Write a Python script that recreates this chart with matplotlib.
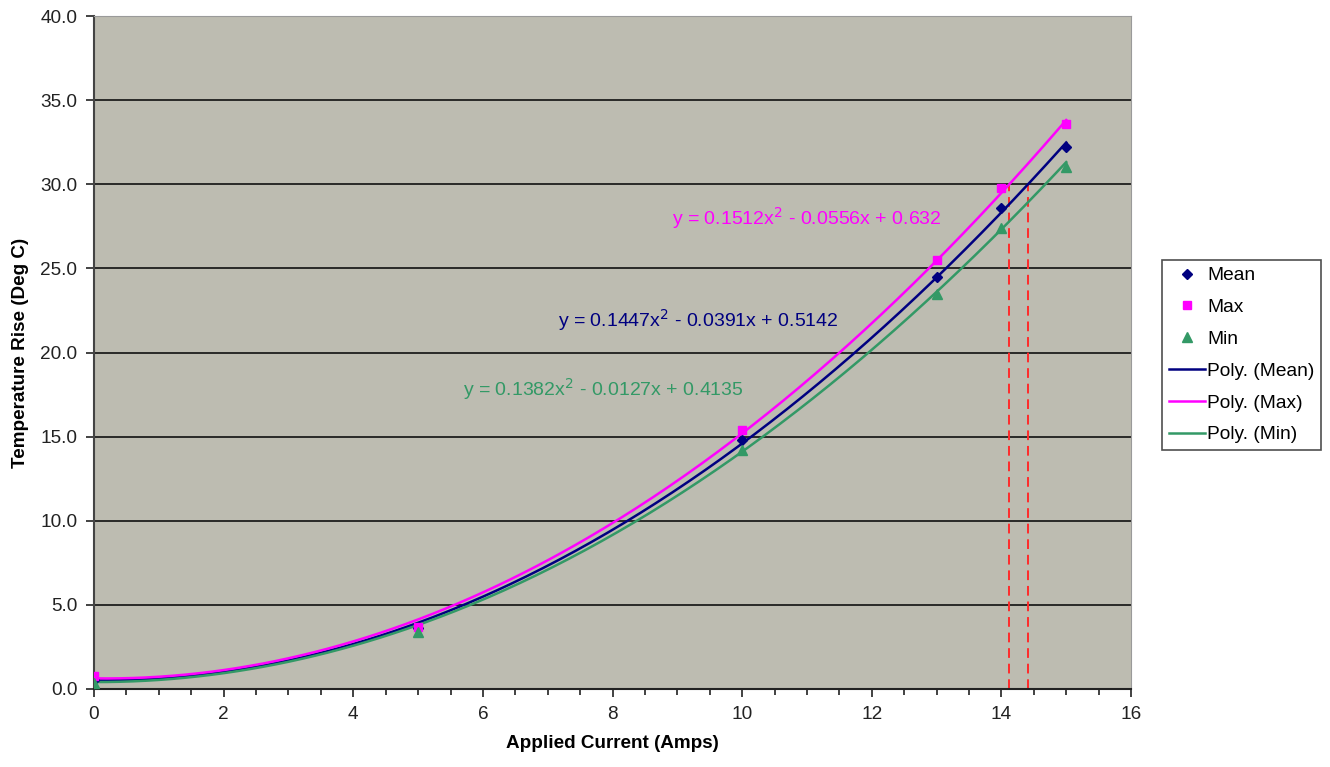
import numpy as np
import matplotlib
matplotlib.use("Agg")
import matplotlib.pyplot as plt
from matplotlib.ticker import MultipleLocator, FormatStrFormatter

plt.rcParams["font.family"] = ["Liberation Sans", "DejaVu Sans"]

# measured temperature rise per applied current
current = [0, 5, 10, 13, 14, 15]
mean_rise = [0.55, 3.6, 14.8, 24.5, 28.6, 32.2]
max_rise = [0.8, 3.7, 15.4, 25.5, 29.8, 33.6]
min_rise = [0.35, 3.4, 14.2, 23.5, 27.4, 31.0]

# 2nd order trendline coefficients (a, b, c)
fit_mean = [0.1447, -0.0391, 0.5142]
fit_max = [0.1512, -0.0556, 0.632]
fit_min = [0.1382, -0.0127, 0.4135]

limit_temp = 30.0

navy = "#000080"
magenta = "#ff00ff"
green = "#339966"


def eq_text(c):
    return "y = {0}x$^2$ - {1}x + {2}".format(c[0], abs(c[1]), c[2])


def crossing(c, y):
    a, b, k = c
    return (-b + np.sqrt(b * b - 4 * a * (k - y))) / (2 * a)


fig = plt.figure(figsize=(13.3, 7.67), dpi=100)
ax = fig.add_axes([0.0707, 0.1017, 0.7797, 0.8774])
ax.set_facecolor("#bdbcb1")

xs = np.linspace(0, 15, 300)
ax.plot(xs, np.polyval(fit_mean, xs), color=navy, lw=1.8, label="Poly. (Mean)", zorder=3)
ax.plot(xs, np.polyval(fit_max, xs), color=magenta, lw=1.8, label="Poly. (Max)", zorder=3)
ax.plot(xs, np.polyval(fit_min, xs), color=green, lw=1.8, label="Poly. (Min)", zorder=3)

ax.plot(current, mean_rise, "D", color=navy, ms=5.5, ls="none", label="Mean", zorder=4)
ax.plot(current, max_rise, "s", color=magenta, ms=6, ls="none", label="Max", zorder=4)
ax.plot(current, min_rise, "^", color=green, ms=7, ls="none", label="Min", zorder=4)

# where the max and mean curves reach the limit
for c in (fit_max, fit_mean):
    xc = crossing(c, limit_temp)
    ax.plot([xc, xc], [0, limit_temp], color="#ff2a2a", lw=1.4, ls=(0, (5, 3)), zorder=2)

eq_size = 14
ax.text(7.16, 21.95, eq_text(fit_mean), color=navy, fontsize=eq_size, ha="left", va="center")
ax.text(8.92, 28.0, eq_text(fit_max), color=magenta, fontsize=eq_size, ha="left", va="center")
ax.text(5.69, 17.8, eq_text(fit_min), color=green, fontsize=eq_size, ha="left", va="center")

ax.set_xlim(0, 16)
ax.set_ylim(0, 40)
ax.xaxis.set_major_locator(MultipleLocator(2))
ax.xaxis.set_minor_locator(MultipleLocator(0.5))
ax.yaxis.set_major_locator(MultipleLocator(5))
ax.yaxis.set_major_formatter(FormatStrFormatter("%.1f"))
ax.tick_params(axis="both", which="major", direction="out", length=6, width=1.2,
               color="#222222", labelsize=13.7, labelcolor="#222222", pad=6)
ax.tick_params(axis="x", which="minor", direction="out", length=4, width=1.2, color="#222222")

for y in range(5, 40, 5):
    ax.axhline(y, color="#111111", lw=1.2, zorder=1)

ax.spines["left"].set_color("#444444")
ax.spines["bottom"].set_color("#222222")
ax.spines["left"].set_linewidth(1.5)
ax.spines["bottom"].set_linewidth(1.5)
ax.spines["top"].set_color("#9a9a9a")
ax.spines["right"].set_color("#9a9a9a")

ax.set_xlabel("Applied Current (Amps)", fontsize=13.6, fontweight="bold", labelpad=9)
ax.set_ylabel("Temperature Rise (Deg C)", fontsize=13.6, fontweight="bold", labelpad=8)

handles, labels = ax.get_legend_handles_labels()
order = [3, 4, 5, 0, 1, 2]
leg = ax.legend([handles[i] for i in order], [labels[i] for i in order],
                loc="center left", bbox_to_anchor=(0.8737, 0.537),
                bbox_transform=fig.transFigure, fontsize=13.8, frameon=True,
                fancybox=False, edgecolor="#222222", handlelength=1.9,
                handletextpad=0.1, labelspacing=0.75, borderpad=0.35,
                borderaxespad=0)
leg.get_frame().set_linewidth(1.2)

fig.savefig("out.png", dpi=100)
